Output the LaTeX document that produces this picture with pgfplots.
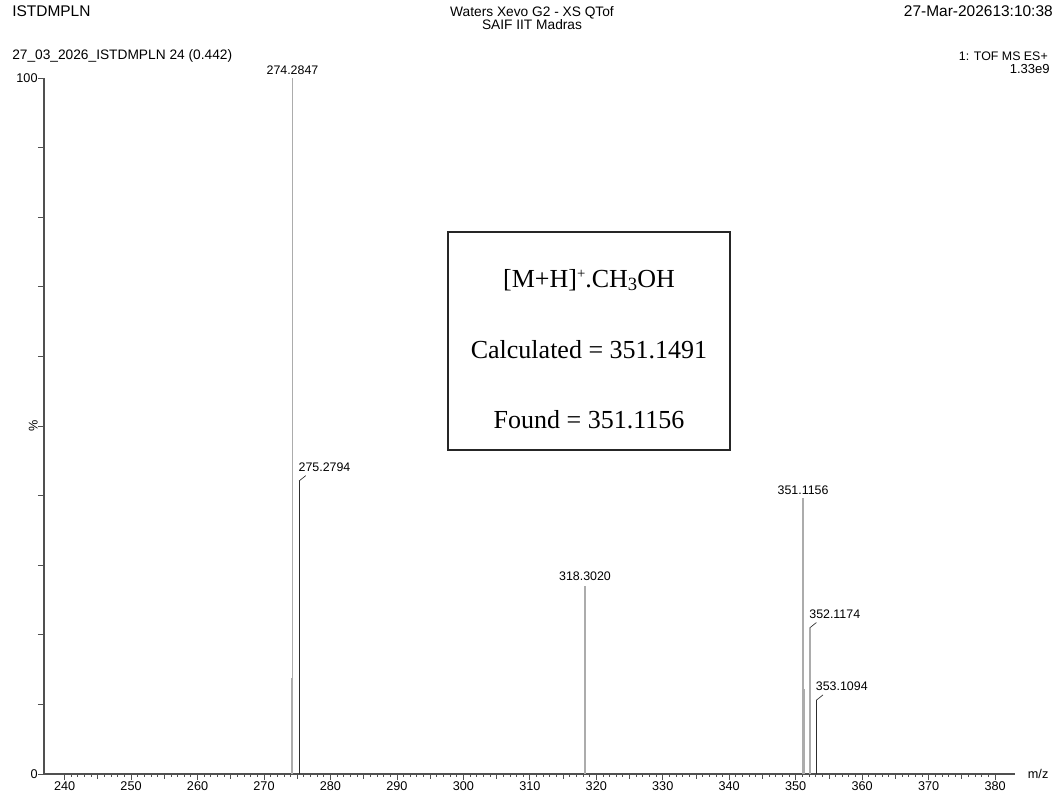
\documentclass[border=0pt]{standalone}
\usepackage{pgfplots}
\pgfplotsset{compat=1.18}
\usepackage{fontspec}
\setmainfont{Liberation Sans}
\newfontfamily\seriffont{Liberation Serif}
\definecolor{peakgray}{RGB}{172,172,172}
\definecolor{peakdark}{RGB}{45,45,45}
\definecolor{axisgray}{RGB}{80,80,80}
\newcommand\lab{\fontsize{9.3}{11}\selectfont}
\newcommand\hdr{\fontsize{10.3}{12}\selectfont}
\newcommand\hdrbig{\fontsize{11.6}{13}\selectfont}
\newcommand\boxfont{\seriffont\fontsize{19.5}{22}\selectfont}
\begin{document}
\begin{tikzpicture}
\path[use as bounding box] (0,0) rectangle (794.25pt,-598.5pt);
\begin{scope}[x=0.75pt,y=-0.75pt]
\node[anchor=base west, inner sep=0pt, font=\hdrbig] at (12,17) {ISTDMPLN};
\node[anchor=base, inner sep=0pt, font=\hdr] at (532,17) {Waters Xevo G2 - XS QTof};
\node[anchor=base, inner sep=0pt, font=\hdr] at (532,30) {SAIF IIT Madras};
\node[anchor=base east, inner sep=0pt, font=\hdrbig] at (1053,17) {27-Mar-202613:10:38};
\node[anchor=base west, inner sep=0pt, font=\hdr] at (12,60) {27\_03\_2026\_ISTDMPLN 24 (0.442)};
\node[anchor=base east, inner sep=0pt, font=\lab] at (1048,61) {1: TOF MS ES+};
\node[anchor=base east, inner sep=0pt, font=\fontsize{9.8}{11}\selectfont] at (1050,74) {1.33e9};
\draw[line width=0.9pt, black!85] (448,232) rectangle (730,450);
\node[font=\boxfont] at (589,280) {[M+H]\raisebox{0.33em}{\fontsize{11}{12}\selectfont +}.CH\raisebox{-0.12em}{\fontsize{14}{15}\selectfont 3}OH};
\node[font=\boxfont] at (589,350) {Calculated = 351.1491};
\node[font=\boxfont] at (589,420) {Found = 351.1156};
\end{scope}
\begin{axis}[
  at={(33pt,-580.5pt)}, anchor=south west,
  width=728.25pt, height=522pt, scale only axis,
  xmin=236.9, xmax=383, ymin=0, ymax=100,
  axis lines*=left,
  axis line style={axisgray, line width=0.8pt},
  tick align=outside,
  xtick={240,250,...,380},
  minor x tick num=9,
  extra x ticks={245,255,...,375},
  extra x tick style={major tick length=3.4pt, xticklabel={}},
  ytick={0,10,...,100},
  yticklabels={0,{},{},{},{},{},{},{},{},{},100},
  major tick length=4.5pt,
  minor tick length=2.2pt,
  every tick/.style={axisgray, line width=0.6pt},
  tick label style={font=\fontsize{9.5}{11}\selectfont},
  /pgf/number format/assume math mode=true,
  x tick label style={/pgf/number format/1000 sep={}, yshift=2.5pt},
  y tick label style={xshift=3.2pt},
  clip=false,
]
\addplot[ycomb, draw=peakgray, line width=1.3pt, mark=none] coordinates {
  (274.2847,100) (274.20,13.8) (318.3020,27.0) (351.1156,39.7) (351.25,12.2) (352.1174,21.0)};
\addplot[ycomb, draw=peakdark, line width=0.7pt, mark=none] coordinates {
  (275.2794,42.1) (353.1094,10.6)};
\node[anchor=south, inner sep=0pt, yshift=2pt, font=\lab] at (axis cs:274.2847,100) {274.2847};
\node[anchor=south, inner sep=0pt, yshift=4pt, font=\lab] at (axis cs:318.3020,27.0) {318.3020};
\node[anchor=south, inner sep=0pt, yshift=2pt, font=\lab] at (axis cs:351.1156,39.7) {351.1156};
\draw[peakdark, line width=0.5pt] (axis cs:275.2794,42.1) -- ++(5pt,4pt);
\node[anchor=south west, inner sep=0pt, xshift=-0.5pt, yshift=7pt, font=\lab] at (axis cs:275.2794,42.1) {275.2794};
\draw[peakdark, line width=0.5pt] (axis cs:352.1174,21.0) -- ++(5pt,4pt);
\node[anchor=south west, inner sep=0pt, xshift=-0.5pt, yshift=7pt, font=\lab] at (axis cs:352.1174,21.0) {352.1174};
\draw[peakdark, line width=0.5pt] (axis cs:353.1094,10.6) -- ++(5pt,4pt);
\node[anchor=south west, inner sep=0pt, xshift=-0.5pt, yshift=7pt, font=\lab] at (axis cs:353.1094,10.6) {353.1094};
\node[anchor=west, inner sep=0pt, xshift=9.5pt, font=\fontsize{9.5}{11}\selectfont] at (rel axis cs:1,0) {m/z};
\node[rotate=90, inner sep=0pt, font=\fontsize{9.5}{11}\selectfont] at ([xshift=-8pt]rel axis cs:0,0.5) {\%};
\end{axis}
\end{tikzpicture}
\end{document}
